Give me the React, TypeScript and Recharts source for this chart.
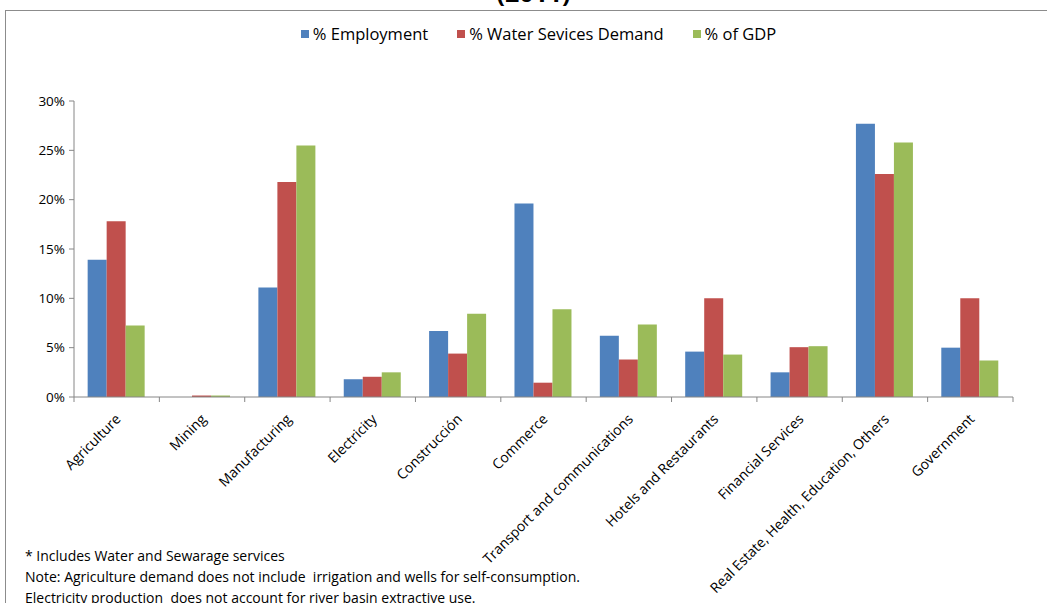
import React from "react";
import { BarChart, Bar, XAxis, YAxis, Legend } from "recharts";

const categories = [
  "Agriculture",
  "Mining",
  "Manufacturing",
  "Electricity",
  "Construcción",
  "Commerce",
  "Transport and communications",
  "Hotels and Restaurants",
  "Financial Services",
  "Real Estate, Health, Education, Others",
  "Government",
];
const employment = [13.9, 0, 11.1, 1.8, 6.7, 19.6, 6.2, 4.6, 2.5, 27.7, 5.0];
const waterDemand = [17.8, 0.15, 21.8, 2.05, 4.4, 1.45, 3.8, 10.0, 5.05, 22.6, 10.0];
const gdp = [7.25, 0.15, 25.5, 2.5, 8.45, 8.9, 7.35, 4.3, 5.15, 25.8, 3.7];
const yTicks = [0, 5, 10, 15, 20, 25, 30];
const seriesNames = ["% Employment", "% Water Sevices Demand", "% of GDP"];
const seriesColors = ["#4F81BD", "#C0504D", "#9BBB59"];
const title = "(2011)";
const notes = [
  "* Includes Water and Sewarage services",
  "Note: Agriculture demand does not include  irrigation and wells for self-consumption.",
  "Electricity production  does not account for river basin extractive use.",
];

const data = categories.map((c, i) => ({
  name: c,
  employment: employment[i],
  water: waterDemand[i],
  gdp: gdp[i],
}));
const keys = ["employment", "water", "gdp"];

const FONT = "'Open Sans', sans-serif";
const AXIS = "#868686";

const CatTick = (props: any) => {
  const { x, y, payload, index } = props;
  const half =
    payload && payload.offset ? payload.offset : (props.width || 939) / categories.length / 2;
  const top = y - 5;
  const ax = x + 5;
  const ay = y + 18;
  return (
    <g>
      <line x1={x + half} x2={x + half} y1={top} y2={top + 5} stroke={AXIS} />
      {index === 0 && <line x1={x - half} x2={x - half} y1={top} y2={top + 5} stroke={AXIS} />}
      <text
        x={ax}
        y={ay}
        transform={`rotate(-45, ${ax}, ${ay})`}
        textAnchor="end"
        fontSize={14}
        fontFamily={FONT}
        fill="#000"
      >
        {payload.value}
      </text>
    </g>
  );
};

const LegendContent = () => (
  <div
    style={{
      display: "flex",
      justifyContent: "center",
      gap: 29,
      fontFamily: FONT,
      fontSize: 16.5,
      color: "#000",
      width: 1047,
      paddingLeft: 30,
      boxSizing: "border-box",
    }}
  >
    {seriesNames.map((n, i) => (
      <div key={n} style={{ display: "flex", alignItems: "center" }}>
        <span
          style={{
            display: "inline-block",
            width: 8,
            height: 8,
            background: seriesColors[i],
            marginRight: 4,
          }}
        />
        <span>{n}</span>
      </div>
    ))}
  </div>
);

export default function App() {
  return (
    <div
      style={{
        position: "absolute",
        left: 0,
        top: 0,
        width: 1047,
        height: 603,
        overflow: "hidden",
        background: "#fff",
        fontFamily: FONT,
      }}
    >
      <div
        style={{
          position: "absolute",
          left: 5,
          top: 10,
          width: 1100,
          height: 700,
          border: "1px solid #8c8c8c",
        }}
      />
      <div
        style={{
          position: "absolute",
          left: 0,
          width: 1047,
          top: -24,
          textAlign: "center",
          fontWeight: "bold",
          fontSize: 25,
          lineHeight: "32px",
          fontFamily: FONT,
          paddingLeft: 20,
          boxSizing: "border-box",
        }}
      >
        {title}
      </div>
      <div style={{ position: "absolute", left: 0, top: 0 }}>
        <BarChart
          width={1047}
          height={603}
          data={data}
          margin={{ top: 101, right: 34, left: 14, bottom: 0 }}
          barCategoryGap="16%"
          barGap={0}
        >
          <XAxis
            dataKey="name"
            interval={0}
            height={206}
            tickLine={false}
            tickSize={5}
            tickMargin={0}
            stroke={AXIS}
            tick={<CatTick />}
          />
          <YAxis
            width={60}
            domain={[0, 30]}
            ticks={yTicks}
            tickFormatter={(v: number) => `${v}%`}
            tickSize={5}
            tickMargin={4}
            stroke={AXIS}
            tick={{ fontSize: 13.5, fill: "#000", fontFamily: FONT }}
          />
          <Legend
            verticalAlign="middle"
            align="center"
            layout="horizontal"
            wrapperStyle={{ top: 22, left: 0, width: 1047 }}
            content={<LegendContent />}
          />
          {keys.map((k, i) => (
            <Bar
              key={k}
              dataKey={k}
              name={seriesNames[i]}
              fill={seriesColors[i]}
              isAnimationActive={false}
            />
          ))}
        </BarChart>
      </div>
      {notes.map((n, i) => (
        <div
          key={i}
          style={{
            position: "absolute",
            left: 25,
            top: 546 + i * 21,
            fontSize: 14,
            lineHeight: "20px",
            fontFamily: FONT,
            color: "#000",
            whiteSpace: "pre",
          }}
        >
          {n}
        </div>
      ))}
    </div>
  );
}
